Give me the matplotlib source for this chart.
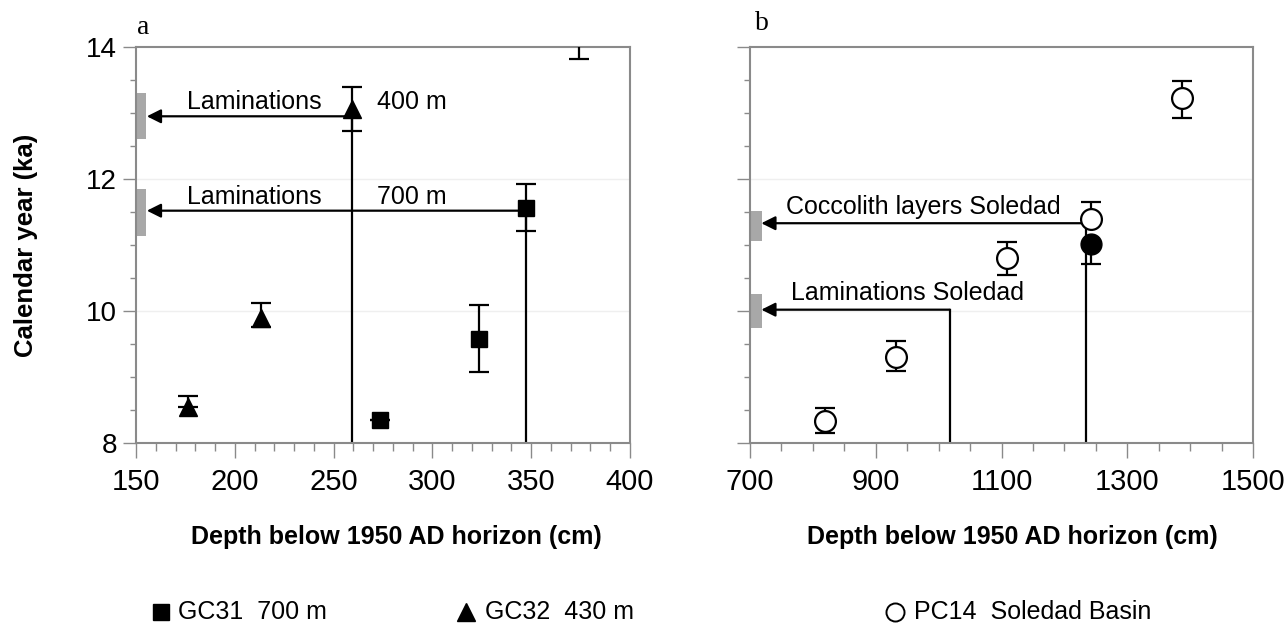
import numpy as np
import matplotlib
matplotlib.use("Agg")
import matplotlib.pyplot as plt
from matplotlib.lines import Line2D
from matplotlib.ticker import MultipleLocator, FixedLocator

plt.rcParams['font.family'] = ['Liberation Sans', 'DejaVu Sans']

# panel a: GC31 (squares) and GC32 (triangles)
gc31_depth = [273.5, 323.5, 347.5]
gc31_age = [8.35, 9.58, 11.56]
gc31_err_lo = [0.0, 0.50, 0.35]
gc31_err_hi = [0.0, 0.51, 0.36]

gc32_depth = [176.5, 213.5, 259.5]
gc32_age = [8.55, 9.90, 13.06]
gc32_err_lo = [0.0, 0.14, 0.33]
gc32_err_hi = [0.16, 0.22, 0.33]

# point above the plotted range (only lower error visible)
off_depth = [374.0]
off_age = [14.25]
off_err_lo = [0.43]

# reference lines to laminations (panel a)
lam_a_depth = [259.5, 347.5]
lam_a_age = [12.95, 11.52]
lam_a_text = ["Laminations", "Laminations"]
lam_a_site = ["400 m", "700 m"]
lam_a_band = [(12.6, 13.3), (11.14, 11.85)]

# panel b: PC14 Soledad Basin
pc14_depth = [819.5, 932.0, 1109.0, 1243.0, 1387.0]
pc14_age = [8.33, 9.31, 10.81, 11.39, 13.22]
pc14_err_lo = [0.18, 0.22, 0.26, 0.0, 0.29]
pc14_err_hi = [0.20, 0.23, 0.24, 0.26, 0.27]
pc14_fill_depth = [1243.0]
pc14_fill_age = [11.02]
pc14_fill_err_lo = [0.31]

lam_b_depth = [1234.0, 1018.0]
lam_b_age = [11.33, 10.02]
lam_b_text = ["Coccolith layers Soledad", "Laminations Soledad"]
lam_b_band = [(11.06, 11.51), (9.75, 10.26)]

xticks_b = [700, 900, 1100, 1300, 1500]

W, H = 1286, 624
fig = plt.figure(figsize=(W / 100, H / 100), dpi=100)
ax_a = fig.add_axes([136 / W, 1 - 443 / H, 494 / W, 396 / H])
ax_b = fig.add_axes([750 / W, 1 - 443 / H, 503 / W, 396 / H])

spine_col = '#8a8a8a'
for ax in (ax_a, ax_b):
    ax.set_ylim(8, 14)
    ax.yaxis.set_major_locator(MultipleLocator(2))
    ax.yaxis.set_minor_locator(MultipleLocator(0.5))
    for s in ax.spines.values():
        s.set_color(spine_col)
        s.set_linewidth(1.5)
    ax.tick_params(axis='both', which='both', color=spine_col, width=1.0, direction='out')
    ax.tick_params(axis='x', labelsize=21)
    ax.tick_params(axis='y', labelsize=20)
    ax.tick_params(axis='y', which='major', length=9.5, pad=4)
    ax.tick_params(axis='y', which='minor', length=4.5)
    ax.tick_params(axis='x', which='major', length=11, pad=7)
    ax.tick_params(axis='x', which='minor', length=5.5)
    for yv in (10, 12):
        ax.axhline(yv, color='#efefef', lw=1.0, zorder=0)

ax_a.set_xlim(150, 400)
ax_a.xaxis.set_major_locator(MultipleLocator(50))
ax_a.xaxis.set_minor_locator(MultipleLocator(10))

ax_b.set_xlim(700, 1500)
ax_b.xaxis.set_major_locator(FixedLocator(xticks_b))
ax_b.xaxis.set_minor_locator(MultipleLocator(50))
ax_b.set_yticklabels([])

lw = 1.6
arrow_kw = dict(arrowstyle='-|>', lw=lw, color='k', mutation_scale=21,
                shrinkA=0, shrinkB=0)

# panel a lines, arrows, bands, labels
for d, a, t, site, band in zip(lam_a_depth, lam_a_age, lam_a_text, lam_a_site, lam_a_band):
    ax_a.plot([d, d], [8, a], color='k', lw=lw, zorder=2)
    ax_a.annotate('', xy=(155.5, a), xytext=(d, a), arrowprops=arrow_kw, zorder=3)
    ax_a.axhspan(band[0], band[1], xmin=0, xmax=0.021, color='#a8a8a8', lw=0, zorder=2)
    ax_a.text(176, a + 0.21, t, fontsize=18, va='center', ha='left')
    ax_a.text(272, a + 0.21, site, fontsize=18, va='center', ha='left')

eb = dict(color='k', ecolor='k', elinewidth=lw, capsize=7.5, capthick=lw, ls='none', zorder=4)
ax_a.errorbar(gc31_depth, gc31_age, yerr=[gc31_err_lo, gc31_err_hi], marker='s', ms=12, **eb)
ax_a.errorbar(gc32_depth, gc32_age, yerr=[gc32_err_lo, gc32_err_hi], marker='^', ms=13, **eb)
ax_a.errorbar(off_depth, off_age, yerr=[off_err_lo, [0]], marker='s', ms=12, **eb)

# panel b lines, arrows, bands, labels
for d, a, t, band in zip(lam_b_depth, lam_b_age, lam_b_text, lam_b_band):
    ax_b.plot([d, d], [8, a], color='k', lw=lw, zorder=2)
    ax_b.annotate('', xy=(718, a), xytext=(d, a), arrowprops=arrow_kw, zorder=3)
    ax_b.axhspan(band[0], band[1], xmin=0, xmax=0.023, color='#a8a8a8', lw=0, zorder=2)

ax_b.text(757, 11.58, lam_b_text[0], fontsize=18, va='center', ha='left')
ax_b.text(766, 10.27, lam_b_text[1], fontsize=18, va='center', ha='left')

ax_b.errorbar(pc14_depth, pc14_age, yerr=[pc14_err_lo, pc14_err_hi], marker='o', ms=15,
              mfc='white', mec='k', mew=1.6, **eb)
ax_b.errorbar(pc14_fill_depth, pc14_fill_age, yerr=[pc14_fill_err_lo, [0]], marker='o', ms=15,
              mfc='k', mec='k', **eb)

# panel letters
fig.text(143 / W, 1 - 27 / H, 'a', family='Liberation Serif', fontsize=20, ha='center', va='center')
fig.text(762 / W, 1 - 23 / H, 'b', family='Liberation Serif', fontsize=20, ha='center', va='center')

# axis labels
fig.text(26 / W, 1 - 245 / H, 'Calendar year (ka)', rotation=90, fontsize=18.5,
         fontweight='bold', ha='center', va='center')
fig.text(396 / W, 1 - 537 / H, 'Depth below 1950 AD horizon (cm)', fontsize=18,
         fontweight='bold', ha='center', va='center')
fig.text(1012 / W, 1 - 537 / H, 'Depth below 1950 AD horizon (cm)', fontsize=18,
         fontweight='bold', ha='center', va='center')

# legend row
leg_y = 1 - 612 / H
fig.add_artist(Line2D([161 / W], [leg_y], marker='s', ms=12, color='k', transform=fig.transFigure))
fig.text(178 / W, leg_y, 'GC31  700 m', fontsize=18, va='center', ha='left')
fig.add_artist(Line2D([466 / W], [leg_y], marker='^', ms=12.5, color='k', transform=fig.transFigure))
fig.text(485 / W, leg_y, 'GC32  430 m', fontsize=18, va='center', ha='left')
fig.add_artist(Line2D([895 / W], [leg_y], marker='o', ms=13, mfc='white', mec='k', mew=1.4,
                      transform=fig.transFigure))
fig.text(914 / W, leg_y, 'PC14  Soledad Basin', fontsize=18, va='center', ha='left')

fig.savefig('out.png', dpi=100)
